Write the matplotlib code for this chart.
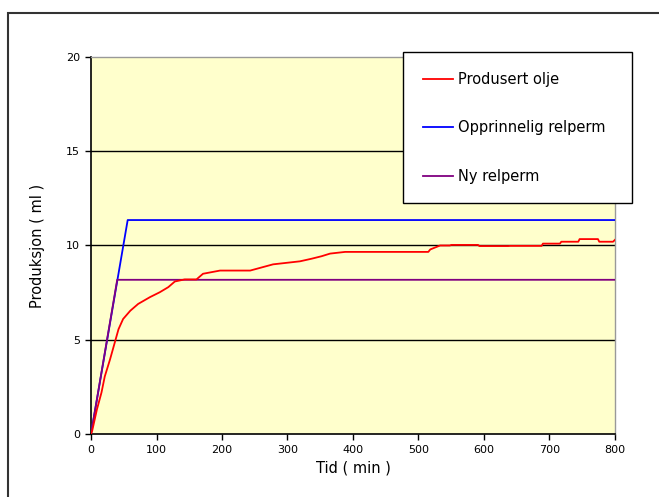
import matplotlib.pyplot as plt
from matplotlib.patches import Rectangle

# Produced oil vs. time, plus the two relperm model curves
tid_olje = [0, 2, 9, 16, 21, 29, 37, 42, 49, 60, 72, 90, 105, 118, 128, 143,
            161, 171, 197, 243, 278, 319, 337, 352, 365, 388, 515, 518, 533,
            548, 550, 591, 593, 637, 640, 688, 690, 716, 718, 744, 746, 774,
            776, 797, 800]
produsert_olje = [0, 0.2, 1.3, 2.2, 3.05, 3.95, 4.94, 5.56, 6.1, 6.54, 6.9,
                  7.26, 7.52, 7.79, 8.09, 8.2, 8.2, 8.5, 8.67, 8.67, 9.0, 9.16,
                  9.3, 9.43, 9.57, 9.66, 9.66, 9.79, 10.0, 10.0, 10.03, 10.03,
                  9.97, 9.97, 9.98, 9.98, 10.1, 10.1, 10.2, 10.2, 10.34, 10.34,
                  10.2, 10.2, 10.3]

tid_opprinnelig = [0, 56, 800]
opprinnelig_relperm = [0, 11.35, 11.35]

tid_ny = [0, 40, 800]
ny_relperm = [0, 8.18, 8.18]

x_ticks = [0, 100, 200, 300, 400, 500, 600, 700, 800]
y_ticks = [0, 5, 10, 15, 20]

plt.rcParams['font.family'] = ['DejaVu Sans']

fig = plt.figure(figsize=(6.59, 4.97), dpi=100)
ax = fig.add_axes([0.1381, 0.1268, 0.7951, 0.7585])
ax.set_facecolor('#FFFFCC')

# outer chart frame (runs past the right and bottom edges)
top = 1 - 13 / 497
fig.patches.append(Rectangle((8 / 659, -0.1), 1.2, top + 0.1,
                             transform=fig.transFigure, fill=False,
                             edgecolor='#333333', linewidth=1.5))

for yv in [5, 10, 15]:
    ax.axhline(yv, color='black', linewidth=1.0, zorder=1)

ax.plot(tid_opprinnelig, opprinnelig_relperm, color='#0000FF', linewidth=1.3,
        label='Opprinnelig relperm', zorder=3)
ax.plot(tid_ny, ny_relperm, color='#800080', linewidth=1.3,
        label='Ny relperm', zorder=4)
ax.plot(tid_olje, produsert_olje, color='#FF0000', linewidth=1.3,
        label='Produsert olje', zorder=5)

ax.set_xlim(0, 800)
ax.set_ylim(0, 20)
ax.set_xticks(x_ticks)
ax.set_yticks(y_ticks)
ax.tick_params(axis='both', direction='out', length=4.5, width=1.0,
               labelsize=8, pad=3.5, color='black')

for side in ['left', 'bottom']:
    ax.spines[side].set_color('black')
    ax.spines[side].set_linewidth(1.2)
for side in ['top', 'right']:
    ax.spines[side].set_color('#999999')
    ax.spines[side].set_linewidth(1.0)

ax.set_xlabel('Tid ( min )', fontsize=10.5, labelpad=4)
ax.set_ylabel('Produksjon ( ml )', fontsize=10.5, labelpad=15)

handles, labels = ax.get_legend_handles_labels()
order = [2, 0, 1]
leg = fig.legend([handles[i] for i in order], [labels[i] for i in order],
                 loc='upper left', bbox_to_anchor=(0.6115, 0.5996, 0.3475, 0.2958),
                 mode='expand', fontsize=10.5, frameon=True, fancybox=False,
                 framealpha=1, borderpad=1.35, labelspacing=2.3,
                 handlelength=2.1, handletextpad=0.35, borderaxespad=0)
leg.get_frame().set_edgecolor('black')
leg.get_frame().set_linewidth(1.0)
leg.get_frame().set_facecolor('white')

fig.savefig('out.png', dpi=100)
